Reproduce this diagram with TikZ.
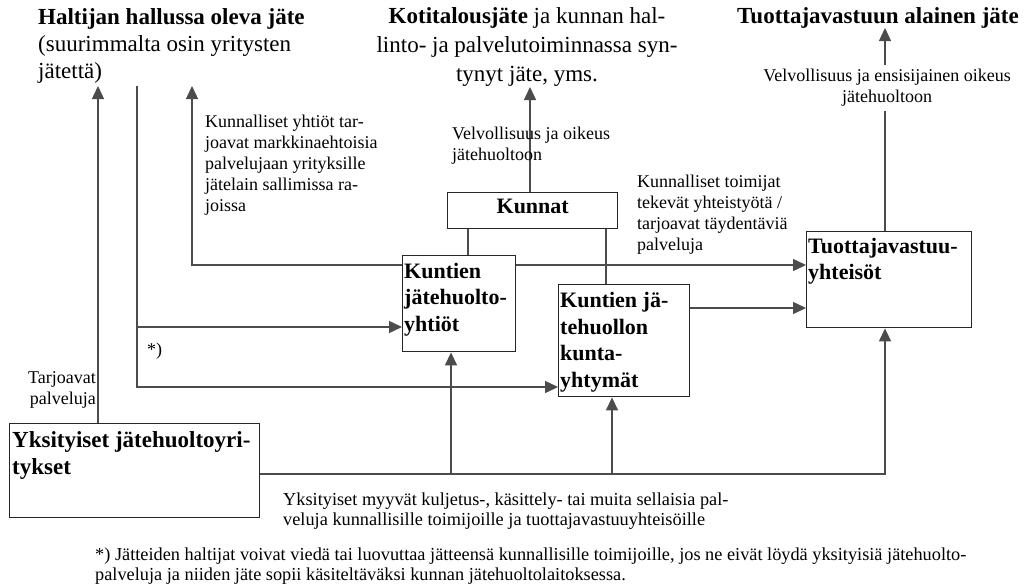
\documentclass[tikz,border=0pt]{standalone}
\usepackage{fontspec}
\setmainfont{Liberation Serif}
\usetikzlibrary{arrows.meta}
\begin{document}
\begin{tikzpicture}[x=1pt,y=-1pt,
  box/.style={draw=black!85,line width=1.4pt,inner sep=0pt,anchor=north west},
  ln/.style={draw=black!70,line width=1.4pt},
  arr/.style={ln,-{Triangle[length=13pt,width=12pt]}},
  ttl/.style={inner sep=0pt,font=\fontsize{23}{27}\selectfont},
  ttlb/.style={inner sep=0pt,font=\fontsize{23}{29}\selectfont},
  bx/.style={inner sep=0pt,anchor=north west,align=left,font=\fontsize{22}{26.5}\selectfont\bfseries},
  lbl/.style={inner sep=0pt,align=left,font=\fontsize{18}{21}\selectfont},
  lbls/.style={inner sep=0pt,align=left,font=\fontsize{18.3}{19.5}\selectfont},
]
\fill[white] (0,0) rectangle (1024,587);
\path[use as bounding box] (0,0) rectangle (1024,587);

% titles
\node[ttl,anchor=north west,align=left] (t1) at (38,8) {\textbf{Haltijan hallussa oleva jäte}\\(suurimmalta osin yritysten\\jätettä)};
\node[ttlb,anchor=north,align=center] (t2) at (527,7.5) {\textbf{Kotitalousjäte} ja kunnan hal-\\linto- ja palvelutoiminnassa syn-\\tynyt jäte, yms.};
\node[ttl,anchor=north] (t3) at (878,7.5) {\textbf{Tuottajavastuun alainen jäte}};

% boxes
\node[box,minimum width=170,minimum height=36] (ku) at (447,192) {};
\node[bx,anchor=base] at ([yshift=-3pt]ku.center) {Kunnat};
\node[box,minimum width=113,minimum height=96] (jh) at (402,255) {};
\node[bx] at ([xshift=2pt,yshift=-8pt]jh.north west) {Kuntien\\jätehuolto-\\yhtiöt};
\node[box,minimum width=131,minimum height=112] (ky) at (558,284) {};
\node[bx] at ([xshift=2pt,yshift=-8.5pt]ky.north west) {Kuntien jä-\\tehuollon\\kunta-\\yhtymät};
\node[box,minimum width=165,minimum height=96] (tv) at (806,231) {};
\node[bx] at ([xshift=2pt,yshift=-7pt]tv.north west) {Tuottajavastuu-\\yhteisöt};
\node[box,minimum width=250,minimum height=94] (yk) at (9,423) {};
\node[bx,font=\fontsize{23}{27}\selectfont\bfseries] at ([xshift=3pt,yshift=-8pt]yk.north west) {Yksityiset jätehuoltoyri-\\tykset};

% labels
\node[lbl,anchor=north east,align=right] (l1) at (96,371) {Tarjoavat\\palveluja};
\node[lbl,anchor=north west] (ast) at (147,343) {*)};
\node[lbl,anchor=north west] (l3) at (205,115) {Kunnalliset yhtiöt tar-\\joavat markkinaehtoisia\\palvelujaan yrityksille\\jätelain sallimissa ra-\\joissa};
\node[lbl,anchor=north west] (l5) at (637,175) {Kunnalliset toimijat\\tekevät yhteistyötä /\\tarjoavat täydentäviä\\palveluja};
\node[lbl,anchor=north,align=center,inner sep=4pt] (l7) at (887,65) {Velvollisuus ja ensisijainen oikeus\\jätehuoltoon};
\node[lbls,anchor=north west] (l8) at (283,493) {Yksityiset myyvät kuljetus-, käsittely- tai muita sellaisia pal-\\veluja kunnallisille toimijoille ja tuottajavastuuyhteisöille};
\node[lbls,anchor=north west] (fn) at (95,548) {*) Jätteiden haltijat voivat viedä tai luovuttaa jätteensä kunnallisille toimijoille, jos ne eivät löydä yksityisiä jätehuolto-\\palveluja ja niiden jäte sopii käsiteltäväksi kunnan jätehuoltolaitoksessa.};

% helper coordinates
\coordinate (a1) at (98,86);
\coordinate (c2) at (137,86);
\coordinate (a3) at (192,86);
\coordinate (a4) at (530,87);
\coordinate (a7) at (885,28);
\coordinate (h265) at (0,265);
\coordinate (h308) at (0,308);
\coordinate (h327) at (0,327);
\coordinate (h387) at (0,387);
\coordinate (h474) at (0,474);
\coordinate (v468) at (468,0);
\coordinate (v606) at (606,0);
\coordinate (v451) at (451,0);
\coordinate (v612) at (612,0);

% connectors
\draw[arr] (yk.north -| a1) -- (a1);
\draw[arr] (c2) |- (ky.west |- h387);
\draw[arr] (c2 |- h327) -- (jh.west |- h327);
\draw[arr] (jh.west |- h265) -| (a3);
\draw[arr] (jh.east |- h265) -- (tv.west |- h265);
\draw[arr] (ky.east |- h308) -- (tv.west |- h308);
\draw[arr] (a4 |- ku.north) -- (a4);
\draw[ln] (ku.south -| v468) -- (jh.north -| v468);
\draw[ln] (ku.south -| v606) -- (ky.north -| v606);
\draw[ln] (tv.north -| a7) -- (a7 |- l7.south);
\draw[arr] (a7 |- l7.north) -- (a7);
\draw[arr] (yk.east |- h474) -| (a7 |- tv.south);
\draw[arr] (v451 |- h474) -- (v451 |- jh.south);
\draw[arr] (v612 |- h474) -- (v612 |- ky.south);

\node[lbl,anchor=north west] (l4) at (452,126.5) {Velvollisuus ja oikeus\\jätehuoltoon};
\end{tikzpicture}
\end{document}
